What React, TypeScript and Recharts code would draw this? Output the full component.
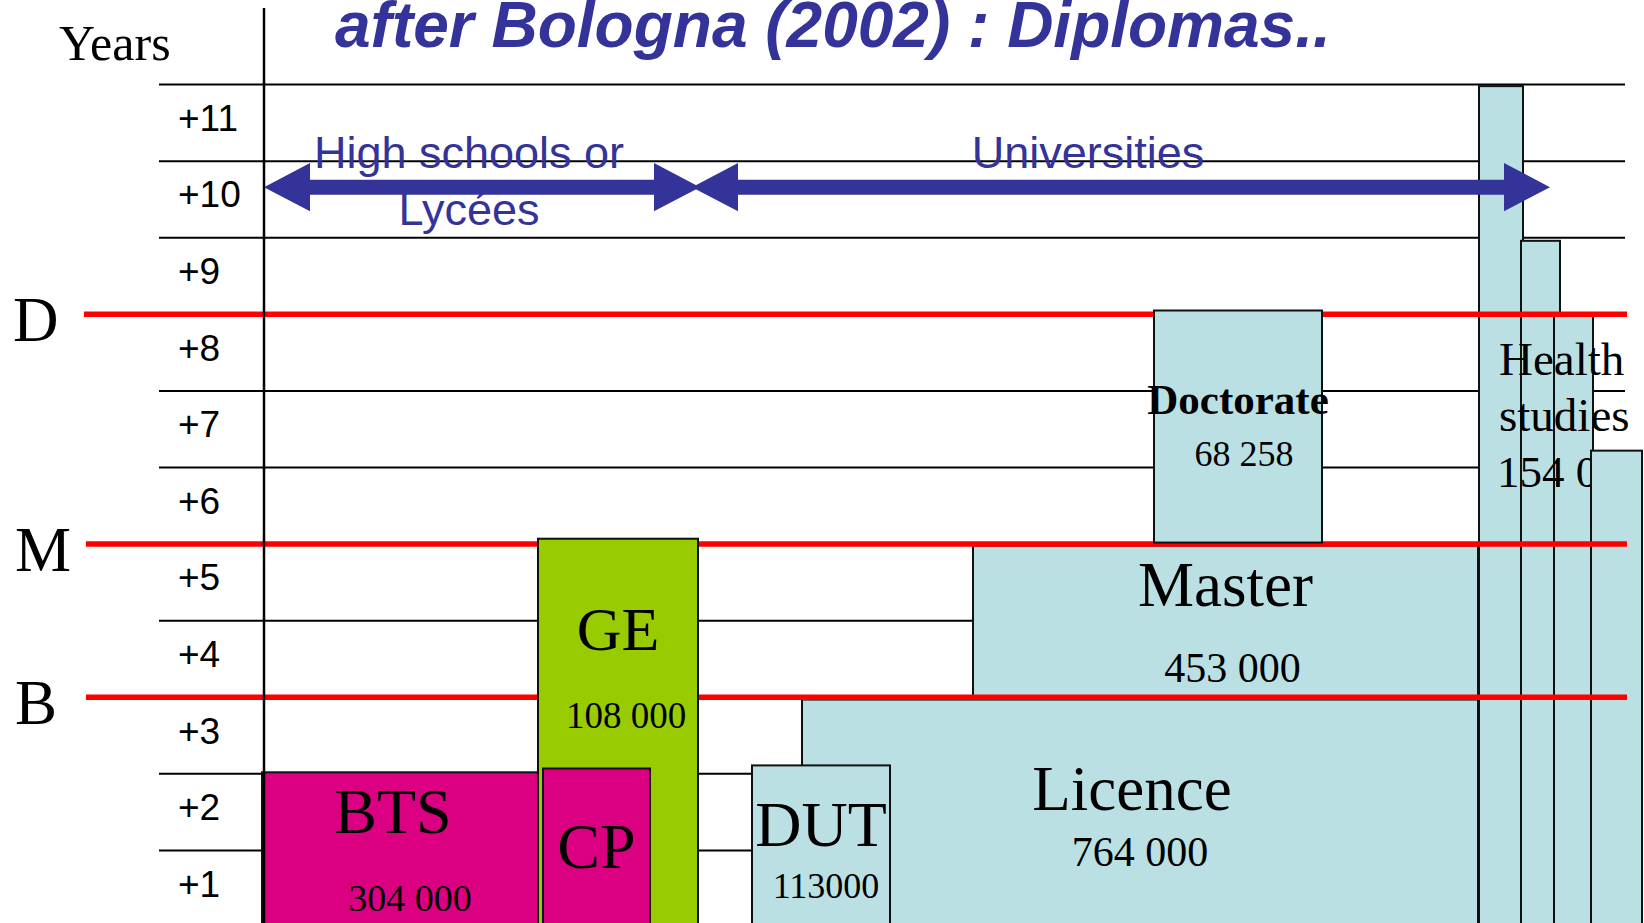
import { ComposedChart, XAxis, YAxis, ReferenceArea, ReferenceLine } from "recharts";

const SANS = "'Liberation Sans', Arial, sans-serif";
const SERIF = "'Liberation Serif', 'Times New Roman', serif";
const BLUE = "#333399";
const UNI = "#BBE0E3";
const FILLS: Record<string, string> = { uni: UNI, school: "#DB0081", ge: "#99CC00" };

// years after the baccalauréat
const YEAR_TICKS = [0.5, 1.5, 2.5, 3.5, 4.5, 5.5, 6.5, 7.5, 8.5, 9.5, 10.5];
const YEAR_LABELS = ["+1", "+2", "+3", "+4", "+5", "+6", "+7", "+8", "+9", "+10", "+11"];
const GRID_YEARS = [1, 2, 3, 4, 5, 6, 7, 8, 9, 10, 11];
const GRID_SPAN = [-105, 1361];

// LMD levels
const LEVELS = ["D", "M", "B"];
const LEVEL_YEARS = [8, 5, 3];
const LEVEL_START = [-180, -178, -178];
const LEVEL_END = 1363;

// diplomas (x in slide units, y in years)
const DIPLOMAS = ["Licence", "Master", "DUT", "BTS", "GE", "CP", "Doctorate"];
const COUNTS = ["764 000", "453 000", "113000", "304 000", "108 000", "", "68 258"];
const KINDS = ["uni", "uni", "uni", "school", "ge", "school", "uni"];
const X_FROM = [538, 709, 488, -2, 274, 279, 890];
const X_TO = [1214, 1214, 626, 276, 434, 386, 1058];
const Y_FROM = [0, 3, 0, 0, 0, 0, 5.02];
const Y_TO = [2.97, 4.98, 2.11, 2.02, 5.07, 2.07, 8.05];
const OVER_LEVELS = ["GE", "CP", "Doctorate"];

// health studies columns
const HEALTH_LABEL = ["Health", "studies", "154 000"];
const HEALTH_X_FROM = [1215, 1257, 1290, 1327];
const HEALTH_X_TO = [1259, 1296, 1329, 1378];
const HEALTH_TOP = [10.98, 8.96, 7.99, 6.22];

// sectors
const SECTORS = [["High schools or", "Lycées"], ["Universities"]];
const SECTOR_FROM = [0, 428];
const SECTOR_TO = [436, 1286];
const SECTOR_Y = 9.66;

// label layout inside each box: [nameDx, nameBaseline, nameSize, countDx, countBaseline, countSize]
const BOX_TEXT: Record<string, number[]> = {
  Licence: [-8, 110, 63, 0, 166, 42],
  Master: [0, 60, 63, 7, 136, 42],
  DUT: [0, 81, 64, 5, 133, 36],
  BTS: [-8, 61, 64, 9, 139, 38],
  GE: [0, 111, 62, 8, 189, 37],
  CP: [0, 100, 64, 0, 0, 0],
  Doctorate: [0, 103, 43, 6, 155, 36],
};

const boxShape = (name: string, count: string, fill: string) => (p: any) => {
  const t = BOX_TEXT[name];
  const cx = p.x + p.width / 2;
  return (
    <g>
      <rect x={p.x} y={p.y} width={p.width} height={p.height} fill={fill} stroke="#111" strokeWidth={2} />
      <text x={cx + t[0]} y={p.y + t[1]} textAnchor="middle" fontFamily={SERIF} fontSize={t[2]}
        fontWeight={name === "Doctorate" ? "bold" : "normal"} fill="#000">{name}</text>
      {count && (
        <text x={cx + t[3]} y={p.y + t[4]} textAnchor="middle" fontFamily={SERIF} fontSize={t[5]} fill="#000">{count}</text>
      )}
    </g>
  );
};

const plainShape = (p: any) => (
  <rect x={p.x} y={p.y} width={p.width} height={p.height} fill={UNI} stroke="#111" strokeWidth={2} />
);

const healthText = (p: any) => (
  <g>
    {HEALTH_LABEL.map((s, i) => (
      <text key={s} x={p.x + (i === 2 ? 18 : 20)} y={p.y + 61 + i * 56} fontFamily={SERIF}
        fontSize={i === 2 ? 45 : 47} fill="#000">{s}</text>
    ))}
  </g>
);

const arrowShape = (lines: string[], dx: number) => (p: any) => {
  const { x, y, width, height } = p;
  const cy = y + height / 2;
  const head = 46;
  const shaft = 7.5;
  const x2 = x + width;
  const pts = [
    [x, cy], [x + head, y], [x + head, cy - shaft], [x2 - head, cy - shaft], [x2 - head, y],
    [x2, cy], [x2 - head, y + height], [x2 - head, cy + shaft], [x + head, cy + shaft], [x + head, y + height],
  ].map((q) => q.join(",")).join(" ");
  const lx = x + width / 2 + dx;
  return (
    <g>
      <polygon points={pts} fill={BLUE} />
      {lines.map((s, i) => (
        <text key={s} x={lx} y={cy - 19 + i * 57} textAnchor="middle" fontFamily={SANS} fontSize={45} fill={BLUE}>{s}</text>
      ))}
    </g>
  );
};

const levelShape = (letter: string) => (p: any) => (
  <g>
    <line x1={p.x1} y1={p.y1} x2={p.x2} y2={p.y2} stroke="#FF0000" strokeWidth={5.5} />
    <text x={p.x1 - 71} y={p.y1 + 27} fontFamily={SERIF} fontSize={63} fill="#000">{letter}</text>
  </g>
);

const YearTick = (props: any) => {
  const i = YEAR_TICKS.indexOf(props.payload.value);
  return (
    <text x={178} y={props.y + 8} fontFamily={SANS} fontSize={37} fill="#000">{YEAR_LABELS[i]}</text>
  );
};

function box(i: number, z: number) {
  const name = DIPLOMAS[i];
  return (
    <ReferenceArea key={name} x1={X_FROM[i]} x2={X_TO[i]} y1={Y_FROM[i]} y2={Y_TO[i]} ifOverflow="visible"
      zIndex={z + i} shape={boxShape(name, COUNTS[i], FILLS[KINDS[i]])} />
  );
}

export default function App() {
  const under = DIPLOMAS.map((n, i) => i).filter((i) => !OVER_LEVELS.includes(DIPLOMAS[i]));
  const over = DIPLOMAS.map((n, i) => i).filter((i) => OVER_LEVELS.includes(DIPLOMAS[i]));
  return (
    <div style={{ position: "absolute", left: 0, top: 0, width: 1644, height: 923, overflow: "hidden", background: "#fff" }}>
      <ComposedChart width={1644} height={927} data={[]} margin={{ top: 8, right: 0, bottom: 0, left: 0 }}>
        <XAxis type="number" dataKey="x" domain={[0, 1380]} allowDataOverflow hide />
        <YAxis type="number" domain={[0, 12]} ticks={YEAR_TICKS} width={264} allowDataOverflow
          axisLine={{ stroke: "#000", strokeWidth: 2.5 }} tickLine={false} tick={<YearTick />} />

        {GRID_YEARS.map((v) => (
          <ReferenceLine key={`g${v}`} segment={[{ x: GRID_SPAN[0], y: v }, { x: GRID_SPAN[1], y: v }]}
            stroke="#000" strokeWidth={2} ifOverflow="visible" zIndex={10} />
        ))}

        {HEALTH_TOP.slice(0, 3).map((top, i) => (
          <ReferenceArea key={`h${i}`} x1={HEALTH_X_FROM[i]} x2={HEALTH_X_TO[i]} y1={0} y2={top}
            ifOverflow="visible" zIndex={20 + i} shape={plainShape} />
        ))}
        <ReferenceArea x1={HEALTH_X_FROM[0]} x2={HEALTH_X_TO[3]} y1={0} y2={LEVEL_YEARS[0]}
          ifOverflow="visible" zIndex={24} shape={healthText} />
        <ReferenceArea x1={HEALTH_X_FROM[3]} x2={HEALTH_X_TO[3]} y1={0} y2={HEALTH_TOP[3]}
          ifOverflow="visible" zIndex={25} shape={plainShape} />

        {under.map((i) => box(i, 30))}

        {LEVELS.map((l, i) => (
          <ReferenceLine key={l} segment={[{ x: LEVEL_START[i], y: LEVEL_YEARS[i] }, { x: LEVEL_END, y: LEVEL_YEARS[i] }]}
            ifOverflow="visible" zIndex={45} shape={levelShape(l)} />
        ))}

        {over.map((i) => box(i, 50))}

        {SECTORS.map((lines, i) => (
          <ReferenceArea key={lines[0]} x1={SECTOR_FROM[i]} x2={SECTOR_TO[i]} y1={SECTOR_Y - 0.315} y2={SECTOR_Y + 0.315}
            ifOverflow="visible" zIndex={70} shape={arrowShape(lines, i === 0 ? -13 : -33)} />
        ))}

        <text x={59} y={60} fontFamily={SERIF} fontSize={50} fill="#000">Years</text>
        <text x={335} y={47} fontFamily={SANS} fontSize={64} fontWeight="bold" fontStyle="italic" fill={BLUE}>
          after Bologna (2002) : Diplomas..
        </text>
      </ComposedChart>
    </div>
  );
}
